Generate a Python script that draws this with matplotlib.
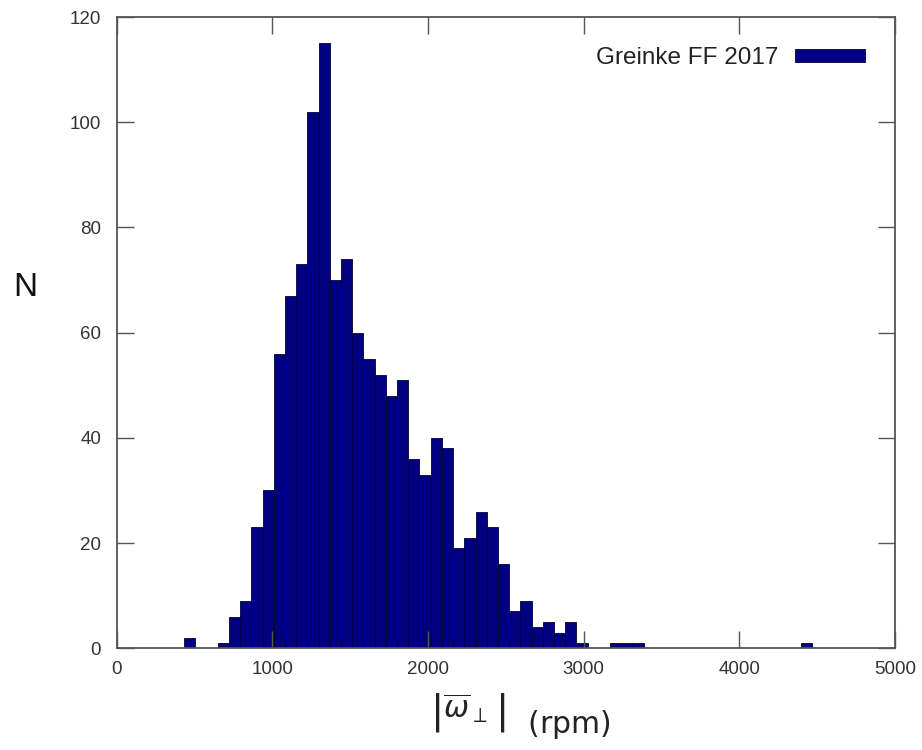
import numpy as np
import matplotlib
matplotlib.use("Agg")
import matplotlib.pyplot as plt

# Histogram data (bin width ~72 rpm)
bin_start = 434
bin_width = 72
counts = [2, 0, 0, 1, 6, 9, 23, 30, 56, 67,
          73, 102, 115, 70, 74, 60, 55, 52, 48, 51,
          36, 33, 40, 38, 19, 21, 26, 23, 16, 7,
          9, 4, 5, 3, 5, 1, 0, 0, 1, 1,
          1, 0, 0, 0, 0, 0, 0, 0, 0, 0,
          0, 0, 0, 0, 0, 1]
x_ticks = [0, 1000, 2000, 3000, 4000, 5000]
y_ticks = [0, 20, 40, 60, 80, 100, 120]
legend_label = "Greinke FF 2017"

left_edges = bin_start + bin_width * np.arange(len(counts))

plt.rcParams["mathtext.fontset"] = "dejavusans"

fig = plt.figure(figsize=(9.22, 7.5), dpi=100)
ax = fig.add_axes([116.5 / 922, 1 - 648.3 / 750, (895 - 116.5) / 922, (648.3 - 17) / 750])

ax.bar(left_edges, counts, width=bin_width, align="edge",
       color="#000080", edgecolor="#000033", linewidth=0.6, label=legend_label)

ax.set_xlim(0, 5000)
ax.set_ylim(0, 120)
ax.set_xticks(x_ticks)
ax.set_yticks(y_ticks)

# gnuplot-like frame and inward mirrored ticks
for s in ax.spines.values():
    s.set_color("#555555")
    s.set_linewidth(1.3)
ax.tick_params(direction="in", length=12, width=1.0, color="#555555",
               top=True, right=True, labelsize=13.5, labelcolor="#333333",
               labelfontfamily="Liberation Sans")
ax.tick_params(axis="y", pad=11)
ax.tick_params(axis="x", pad=9)

# Legend with swatch on the right
leg = ax.legend(loc="upper right", bbox_to_anchor=(0.9615, 0.9517), frameon=False,
                markerfirst=False, handlelength=2.9, handleheight=0.45,
                handletextpad=0.65, borderpad=0, borderaxespad=0,
                prop={"family": "Liberation Sans", "size": 17.5})
for t in leg.get_texts():
    t.set_color("#222222")

# Axis labels
fig.text(25 / 922, 1 - 288 / 750, "N", ha="center", va="center",
         fontsize=24, family="Liberation Sans", color="#111111")
fig.text(520 / 922, 1 - 717 / 750,
         r"$\left|\genfrac{}{}{0}{0}{\overline{\omega}_{\perp}}{\,}\right|$  (rpm)",
         ha="center", va="center", fontsize=21.5, family="DejaVu Sans", color="#222222")

fig.savefig("out.png", dpi=100)
